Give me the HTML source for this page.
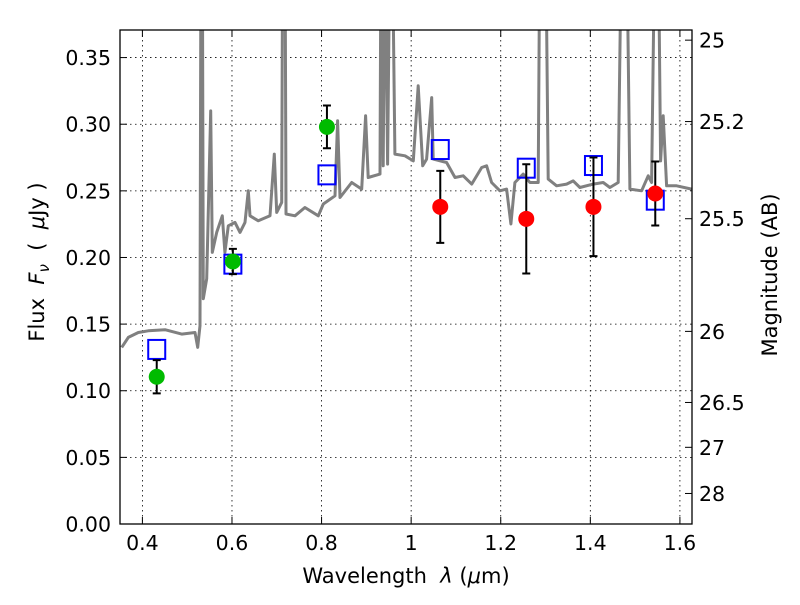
<!DOCTYPE html>
<html><head><meta charset="utf-8"><style>
body{margin:0;background:#fff;}
svg text{font-family:"DejaVu Sans","Liberation Sans",sans-serif;fill:#000;}
</style></head><body>
<svg id="chart" width="800" height="600" xmlns="http://www.w3.org/2000/svg">
<defs><clipPath id="clip"><rect x="120" y="30" width="572" height="494"/></clipPath></defs>
<rect x="0" y="0" width="800" height="600" fill="#fff"/>
<g id="grid"></g>
<g id="spec" clip-path="url(#clip)"></g>
<g id="marks" clip-path="url(#clip)"></g>
<rect x="120" y="30" width="572" height="494" fill="none" stroke="#000" stroke-width="1.3"/>
<g id="axes"></g>
<text x="406" y="583" font-size="21" text-anchor="middle">Wavelength&#160;&#160;<tspan font-style="italic">λ</tspan> (<tspan font-style="italic">μ</tspan>m)</text>
<text transform="translate(44,262) rotate(-90)" font-size="21" text-anchor="middle">Flux&#160;&#160;<tspan font-style="italic">F</tspan><tspan font-style="italic" font-size="15" dy="5">ν</tspan><tspan dy="-5">&#160;&#160;(&#160;&#160;</tspan><tspan font-style="italic">μ</tspan>Jy )</text>
<text transform="translate(777,275) rotate(-90)" font-size="21" text-anchor="middle">Magnitude (AB)</text>
</svg>
<script>
const specX=[0.3538,0.3685,0.3908,0.4132,0.4504,0.4877,0.5174,0.5234,0.5286,0.5308,0.5337,0.5359,0.5435,0.5525,0.5560,0.5658,0.5783,0.5843,0.5917,0.6067,0.6179,0.6290,0.6364,0.6402,0.6587,0.6848,0.6944,0.6998,0.7109,0.7132,0.7183,0.7205,0.7406,0.7629,0.7926,0.8038,0.8299,0.8359,0.8411,0.8672,0.8895,0.8984,0.9042,0.9304,0.9326,0.9377,0.9415,0.9475,0.9527,0.9578,0.9638,0.9862,1.0047,1.0158,1.0257,1.0346,1.0458,1.0493,1.0792,1.0978,1.1163,1.1351,1.1574,1.1685,1.1797,1.1982,1.2132,1.2228,1.2317,1.2502,1.2652,1.2837,1.2875,1.3002,1.3060,1.3248,1.3471,1.3618,1.3768,1.4065,1.4288,1.4438,1.4623,1.4699,1.4810,1.4884,1.5145,1.5293,1.5368,1.5442,1.5516,1.5569,1.5627,1.5703,1.5926,1.6261];
const specY=[0.1325,0.140,0.1437,0.145,0.1458,0.1425,0.1437,0.1325,0.1488,0.45,0.45,0.169,0.184,0.310,0.2038,0.2188,0.2313,0.2038,0.2238,0.2263,0.2188,0.2263,0.250,0.2313,0.2275,0.2313,0.2776,0.2338,0.2413,0.45,0.45,0.2326,0.2313,0.2375,0.2313,0.2401,0.2463,0.3026,0.245,0.2563,0.2513,0.3063,0.26,0.2626,0.45,0.2688,0.45,0.2701,0.45,0.45,0.2776,0.2763,0.2725,0.3288,0.2688,0.2738,0.320,0.2738,0.2713,0.26,0.2613,0.2551,0.2675,0.2688,0.2563,0.250,0.2513,0.2251,0.2563,0.2626,0.2563,0.2563,0.45,0.45,0.2588,0.2538,0.2551,0.2575,0.2525,0.2551,0.2563,0.2525,0.2563,0.45,0.45,0.2513,0.250,0.2613,0.2563,0.45,0.45,0.2725,0.3063,0.2538,0.2538,0.2513];
const greenX=[0.432,0.602,0.812];
const greenY=[0.1105,0.197,0.298];
const greenErr=[0.0125,0.0095,0.016];
const redX=[1.065,1.257,1.407,1.545];
const redY=[0.238,0.229,0.238,0.248];
const redErr=[0.027,0.041,0.037,0.024];
const modelX=[0.432,0.602,0.812,1.065,1.257,1.407,1.545];
const modelY=[0.131,0.195,0.262,0.281,0.267,0.269,0.243];
const xTicks=[0.4,0.6,0.8,1.0,1.2,1.4,1.6];
const xTickLabels=["0.4","0.6","0.8","1","1.2","1.4","1.6"];
const yTicks=[0,0.05,0.10,0.15,0.20,0.25,0.30,0.35];
const yTickLabels=["0.00","0.05","0.10","0.15","0.20","0.25","0.30","0.35"];
const magTicks=[25,25.2,25.5,26,26.5,27,28];
const magTickLabels=["25","25.2","25.5","26","26.5","27","28"];

const NS="http://www.w3.org/2000/svg";
const X0=120,X1=692,Y0=524,Y1=30,xmin=0.35,xmax=1.627,ymin=0,ymax=0.3707;
const sx=v=>X0+(v-xmin)/(xmax-xmin)*(X1-X0);
const sy=v=>Y0-(v-ymin)/(ymax-ymin)*(Y0-Y1);
const magToFlux=m=>Math.pow(10,-(m-23.9)/2.5);
function mk(tag,attrs,parent,text){const e=document.createElementNS(NS,tag);for(const k in attrs)e.setAttribute(k,attrs[k]);if(text!==undefined)e.textContent=text;parent.appendChild(e);return e;}
const grid=document.getElementById('grid'),axes=document.getElementById('axes'),spec=document.getElementById('spec'),marks=document.getElementById('marks');

xTicks.forEach((t,i)=>{const x=sx(t);
 let g=mk('line',{x1:x,x2:x,y1:Y1,y2:Y0,stroke:'#000','stroke-width':0.8,'stroke-dasharray':'1.5,3.5'},grid);
 
 let a=mk('line',{x1:x,x2:x,y1:Y0,y2:Y0-7,stroke:'#000','stroke-width':1},axes);
 
 let b=mk('line',{x1:x,x2:x,y1:Y1,y2:Y1+7,stroke:'#000','stroke-width':1},axes);
 
 let l=mk('text',{x:x,y:550,'font-size':20.5,'text-anchor':'middle'},axes,xTickLabels[i]);
 
});
yTicks.forEach((t,i)=>{const y=sy(t);
 if(t>0){let g=mk('line',{x1:X0,x2:X1,y1:y,y2:y,stroke:'#000','stroke-width':0.8,'stroke-dasharray':'1.5,3.5'},grid);
 }
 let a=mk('line',{x1:X0,x2:X0+7,y1:y,y2:y,stroke:'#000','stroke-width':1},axes);
 
 let l=mk('text',{x:111,y:y+7.5,'font-size':20.5,'text-anchor':'end'},axes,yTickLabels[i]);
 
});
magTicks.forEach((m,i)=>{const y=sy(magToFlux(m));
 let a=mk('line',{x1:X1,x2:X1-7,y1:y,y2:y,stroke:'#000','stroke-width':1},axes);
 
 let l=mk('text',{x:699,y:y+7.5,'font-size':20.5,'text-anchor':'start'},axes,magTickLabels[i]);
 
});

const pts=specX.map((v,i)=>sx(v).toFixed(1)+','+sy(specY[i]).toFixed(1)).join(' ');
const pl=mk('polyline',{points:pts,fill:'none',stroke:'#808080','stroke-width':3,'stroke-linejoin':'round'},spec);



modelX.forEach((v,i)=>{const x=sx(v),y=sy(modelY[i]);
 const r=mk('rect',{x:x-8.5,y:y-9.5,width:17,height:19,fill:'none',stroke:'#0000ff','stroke-width':2},marks);
 
 
});
function pointSet(xs,ys,es,color,name){
 xs.forEach((v,i)=>{const x=sx(v),yt=sy(ys[i]+es[i]),yb=sy(ys[i]-es[i]);
  const eb=mk('path',{d:`M${x},${yt}V${yb}M${x-4},${yt}H${x+4}M${x-4},${yb}H${x+4}`,stroke:'#000','stroke-width':2,fill:'none'},marks);
  
  
  const c=mk('circle',{cx:x,cy:sy(ys[i]),r:8,fill:color},marks);
  
  
 });
}
pointSet(greenX,greenY,greenErr,'#00bb00','hst-flux');
pointSet(redX,redY,redErr,'#ff0000','ir-flux');
</script>
</body></html>
